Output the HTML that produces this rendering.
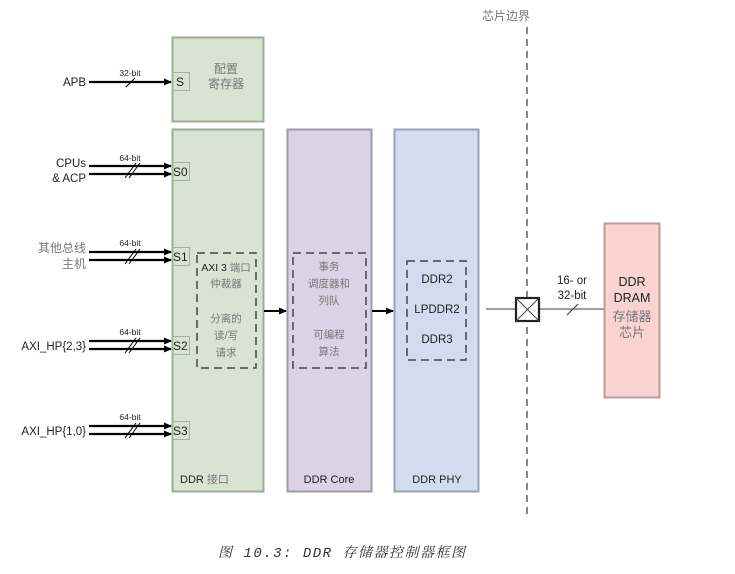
<!DOCTYPE html>
<html><head><meta charset="utf-8"><style>
html,body{margin:0;padding:0;background:#fff;}
svg{display:block;font-family:"Liberation Sans","Noto Sans CJK SC",sans-serif;}
</style></head><body>
<svg width="735" height="574" viewBox="0 0 735 574" xmlns="http://www.w3.org/2000/svg">
<defs>
<marker id="ah" markerWidth="8" markerHeight="8" refX="7" refY="4" orient="auto" markerUnits="userSpaceOnUse">
<path d="M0,0.5 L8,4 L0,7.5 Z" fill="#000"/></marker>
</defs>
<rect x="172.5" y="37.5" width="91" height="84" fill="#d8e3d2" stroke="#9cab97" stroke-width="2"/>
<rect x="172.5" y="129.5" width="91" height="362" fill="#d8e3d2" stroke="#9cab97" stroke-width="2"/>
<rect x="287.5" y="129.5" width="84" height="362" fill="#dbd2e4" stroke="#a198ad" stroke-width="2"/>
<rect x="394.5" y="129.5" width="84" height="362" fill="#d3dbef" stroke="#98a2b8" stroke-width="2"/>
<rect x="604.5" y="223.5" width="55" height="174" fill="#f9d3cf" stroke="#bc9b98" stroke-width="2"/>
<g fill="none" stroke="#a5b2a0" stroke-width="1">
<rect x="172.5" y="72.5" width="17" height="18"/>
<rect x="172.5" y="162.5" width="17" height="18"/>
<rect x="172.5" y="247.5" width="17" height="18"/>
<rect x="172.5" y="336.5" width="17" height="18"/>
<rect x="172.5" y="421.5" width="17" height="18"/>
</g>
<g font-size="12" fill="#222">
<text x="176" y="86">S</text>
<text x="173" y="176">S0</text>
<text x="173" y="261">S1</text>
<text x="173" y="350">S2</text>
<text x="173" y="435">S3</text>
</g>
<g fill="none" stroke="#444" stroke-width="1.5" stroke-dasharray="8,5">
<rect x="197" y="253" width="59" height="115"/>
<rect x="293" y="253" width="73" height="115"/>
<rect x="407" y="261" width="59" height="99"/>
</g>
<g fill="#777" font-size="12" text-anchor="middle">
<text x="226" y="73">配置</text>
<text x="226" y="88">寄存器</text>
<text x="226" y="271" font-size="10.5"><tspan fill="#222">AXI 3</tspan> 端口</text>
<text x="226" y="287" font-size="10.5">仲裁器</text>
<text x="226" y="322" font-size="10.5">分离的</text>
<text x="226" y="339" font-size="10.5">读/写</text>
<text x="226" y="356" font-size="10.5">请求</text>
<text x="329" y="270" font-size="10.5">事务</text>
<text x="329" y="287" font-size="10.5">调度器和</text>
<text x="329" y="304" font-size="10.5">列队</text>
<text x="329" y="338" font-size="10.5">可编程</text>
<text x="329" y="355" font-size="10.5">算法</text>
<text x="632" y="321" font-size="13">存储器</text>
<text x="632" y="337" font-size="13">芯片</text>
<text x="506" y="20" font-size="12">芯片边界</text>
</g>
<g fill="#222" font-size="11.5" text-anchor="middle">
<text x="437" y="283">DDR2</text>
<text x="437" y="313">LPDDR2</text>
<text x="437" y="343">DDR3</text>
<text x="632" y="286" font-size="12.5">DDR</text>
<text x="632" y="302" font-size="12.5">DRAM</text>
<text x="572" y="284" font-size="11.5">16-  or</text>
<text x="572" y="299" font-size="11.5">32-bit</text>
<text x="329" y="483" font-size="11">DDR  Core</text>
<text x="437" y="483" font-size="11">DDR  PHY</text>
</g>
<text x="180" y="483" font-size="11" fill="#222">DDR <tspan fill="#777">接口</tspan></text>
<g stroke="#000" stroke-width="2">
<line x1="264" y1="311" x2="286" y2="311" marker-end="url(#ah)"/>
<line x1="372" y1="311" x2="393" y2="311" marker-end="url(#ah)"/>
</g>
<line x1="527" y1="27" x2="527" y2="519" stroke="#222" stroke-width="1.1" stroke-dasharray="7,5"/>
<line x1="486" y1="309" x2="604" y2="309" stroke="#666" stroke-width="1.3"/>
<rect x="516" y="298" width="23" height="23" fill="#fff" stroke="#222" stroke-width="2.2"/>
<line x1="516" y1="298" x2="539" y2="321" stroke="#444" stroke-width="1"/>
<line x1="539" y1="298" x2="516" y2="321" stroke="#444" stroke-width="1"/>
<line x1="567" y1="315" x2="578" y2="304" stroke="#333" stroke-width="1"/>
<g stroke="#000" stroke-width="2.2">
<line x1="89" y1="82" x2="171" y2="82" marker-end="url(#ah)"/>
<line x1="89" y1="166" x2="171" y2="166" marker-end="url(#ah)"/>
<line x1="89" y1="174" x2="171" y2="174" marker-end="url(#ah)"/>
<line x1="89" y1="252" x2="171" y2="252" marker-end="url(#ah)"/>
<line x1="89" y1="260" x2="171" y2="260" marker-end="url(#ah)"/>
<line x1="89" y1="341" x2="171" y2="341" marker-end="url(#ah)"/>
<line x1="89" y1="349" x2="171" y2="349" marker-end="url(#ah)"/>
<line x1="89" y1="426" x2="171" y2="426" marker-end="url(#ah)"/>
<line x1="89" y1="434" x2="171" y2="434" marker-end="url(#ah)"/>
</g>
<g stroke="#000" stroke-width="1">
<line x1="126" y1="87" x2="135" y2="78"/>
<line x1="125" y1="178" x2="136" y2="163"/><line x1="129" y1="178" x2="140" y2="163"/>
<line x1="125" y1="264" x2="136" y2="249"/><line x1="129" y1="264" x2="140" y2="249"/>
<line x1="125" y1="353" x2="136" y2="338"/><line x1="129" y1="353" x2="140" y2="338"/>
<line x1="125" y1="438" x2="136" y2="423"/><line x1="129" y1="438" x2="140" y2="423"/>
</g>
<g font-size="8.5" fill="#222" text-anchor="middle">
<text x="130" y="76">32-bit</text>
<text x="130" y="161">64-bit</text>
<text x="130" y="246">64-bit</text>
<text x="130" y="335">64-bit</text>
<text x="130" y="420">64-bit</text>
</g>
<g font-size="11.5" fill="#222" text-anchor="end">
<text x="86" y="86">APB</text>
<text x="86" y="167">CPUs</text>
<text x="86" y="182">&amp;  ACP</text>
<text x="86" y="252" fill="#777" font-size="12">其他总线</text>
<text x="86" y="268" fill="#777" font-size="12">主机</text>
<text x="86" y="350">AXI_HP{2,3}</text>
<text x="86" y="435">AXI_HP{1,0}</text>
</g>
<text x="218" y="557" font-size="14" font-style="italic" fill="#333" textLength="247" lengthAdjust="spacing" font-family="'Liberation Mono','Noto Serif CJK SC',monospace">图 10.3:  DDR 存储器控制器框图</text>
</svg>
</body></html>
